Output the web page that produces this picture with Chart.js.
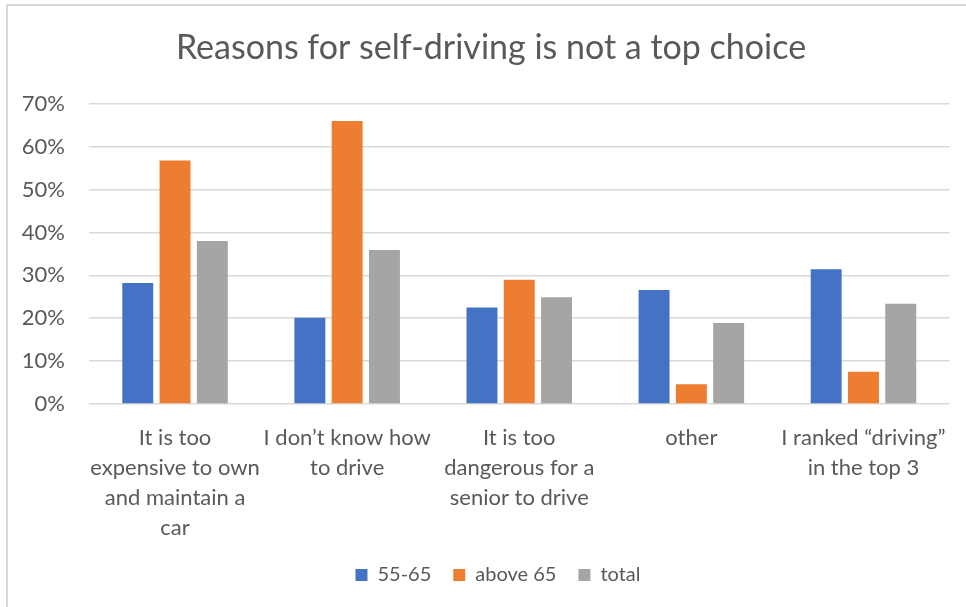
<!DOCTYPE html>
<html>
<head>
<meta charset="utf-8">
<script src="https://cdn.jsdelivr.net/npm/chart.js@4.4.0/dist/chart.umd.min.js"></script>
<style>
  html, body { margin: 0; padding: 0; background: #fff; }
  #wrap { position: relative; width: 966px; height: 607px; }
  #frame {
    position: absolute; left: 6px; top: 4px; right: 0; bottom: 0;
    border-top: 2px solid #d9d9d9; border-left: 2px solid #d9d9d9;
    pointer-events: none;
  }
</style>
</head>
<body>
<div id="wrap">
  <canvas id="chart"></canvas>
  <div id="frame"></div>
</div>
<script>
// categories, wrapped like the original axis labels
const categories = [
    ['It is too', 'expensive to own', 'and maintain a', 'car'],
    ['I don\u2019t know how', 'to drive'],
    ['It is too', 'dangerous for a', 'senior to drive'],
    ['other'],
    ['I ranked \u201cdriving\u201d', 'in the top 3']
];

// percentages
const age55to65 = [28.2, 20.1, 22.5, 26.6, 31.4];
const above65 = [56.8, 66.0, 29.0, 4.6, 7.5];
const total = [38.0, 35.9, 24.9, 18.9, 23.4];

const yTicks = [0, 10, 20, 30, 40, 50, 60, 70];

const textColor = '#595959';
const fontFamily = 'Lato, "Open Sans", sans-serif';

// Excel centres title and legend on the whole chart box, not the plot;
// nudge them right a little so they sit where the original has them
const centreShift = {
    id: 'centreShift',
    afterLayout(chart) {
        if (chart.titleBlock) {
            chart.titleBlock.left += 15;
            chart.titleBlock.right += 15;
        }
        if (chart.legend) {
            chart.legend.left += 22;
            chart.legend.right += 22;
        }
    }
};

const ctx = document.getElementById('chart').getContext('2d');
const chart = new Chart(ctx, {
    type: 'bar',
    data: {
        labels: categories,
        datasets: [
            { label: '55-65', data: age55to65, backgroundColor: '#4472C4' },
            { label: 'above 65', data: above65, backgroundColor: '#ED7D31' },
            { label: 'total', data: total, backgroundColor: '#A5A5A5' }
        ]
    },
    plugins: [centreShift],
    options: {
        responsive: true,
        maintainAspectRatio: false,
        animation: false,
        datasets: {
            bar: { categoryPercentage: 0.65, barPercentage: 0.83 }
        },
        layout: { padding: { top: 0, left: 0, right: 14, bottom: 12 } },
        plugins: {
            title: {
                display: true,
                text: 'Reasons for self-driving is not a top choice',
                color: textColor,
                font: { family: fontFamily, size: 34, weight: 'normal' },
                padding: { top: 28, bottom: 35 }
            },
            legend: {
                position: 'bottom',
                labels: {
                    color: textColor,
                    font: { family: fontFamily, size: 20 },
                    boxWidth: 12,
                    boxHeight: 12,
                    padding: 22
                }
            },
            tooltip: { enabled: false }
        },
        scales: {
            x: {
                grid: { display: false, drawTicks: false },
                border: { display: false },
                ticks: {
                    color: textColor,
                    font: { family: fontFamily, size: 22, lineHeight: 1.36 },
                    padding: 19,
                    maxRotation: 0,
                    autoSkip: false
                },
                afterFit: (scale) => { scale.height = 139; }
            },
            y: {
                min: 0,
                max: 70,
                afterBuildTicks: (scale) => { scale.ticks = yTicks.map(v => ({ value: v })); },
                grid: { color: '#d9d9d9', lineWidth: 1.5, drawTicks: false },
                border: { display: false },
                ticks: {
                    color: textColor,
                    font: { family: fontFamily, size: 22 },
                    padding: 24,
                    callback: (v) => v + '%'
                },
                afterFit: (scale) => { scale.width = 89; }
            }
        }
    }
});
</script>
</body>
</html>
